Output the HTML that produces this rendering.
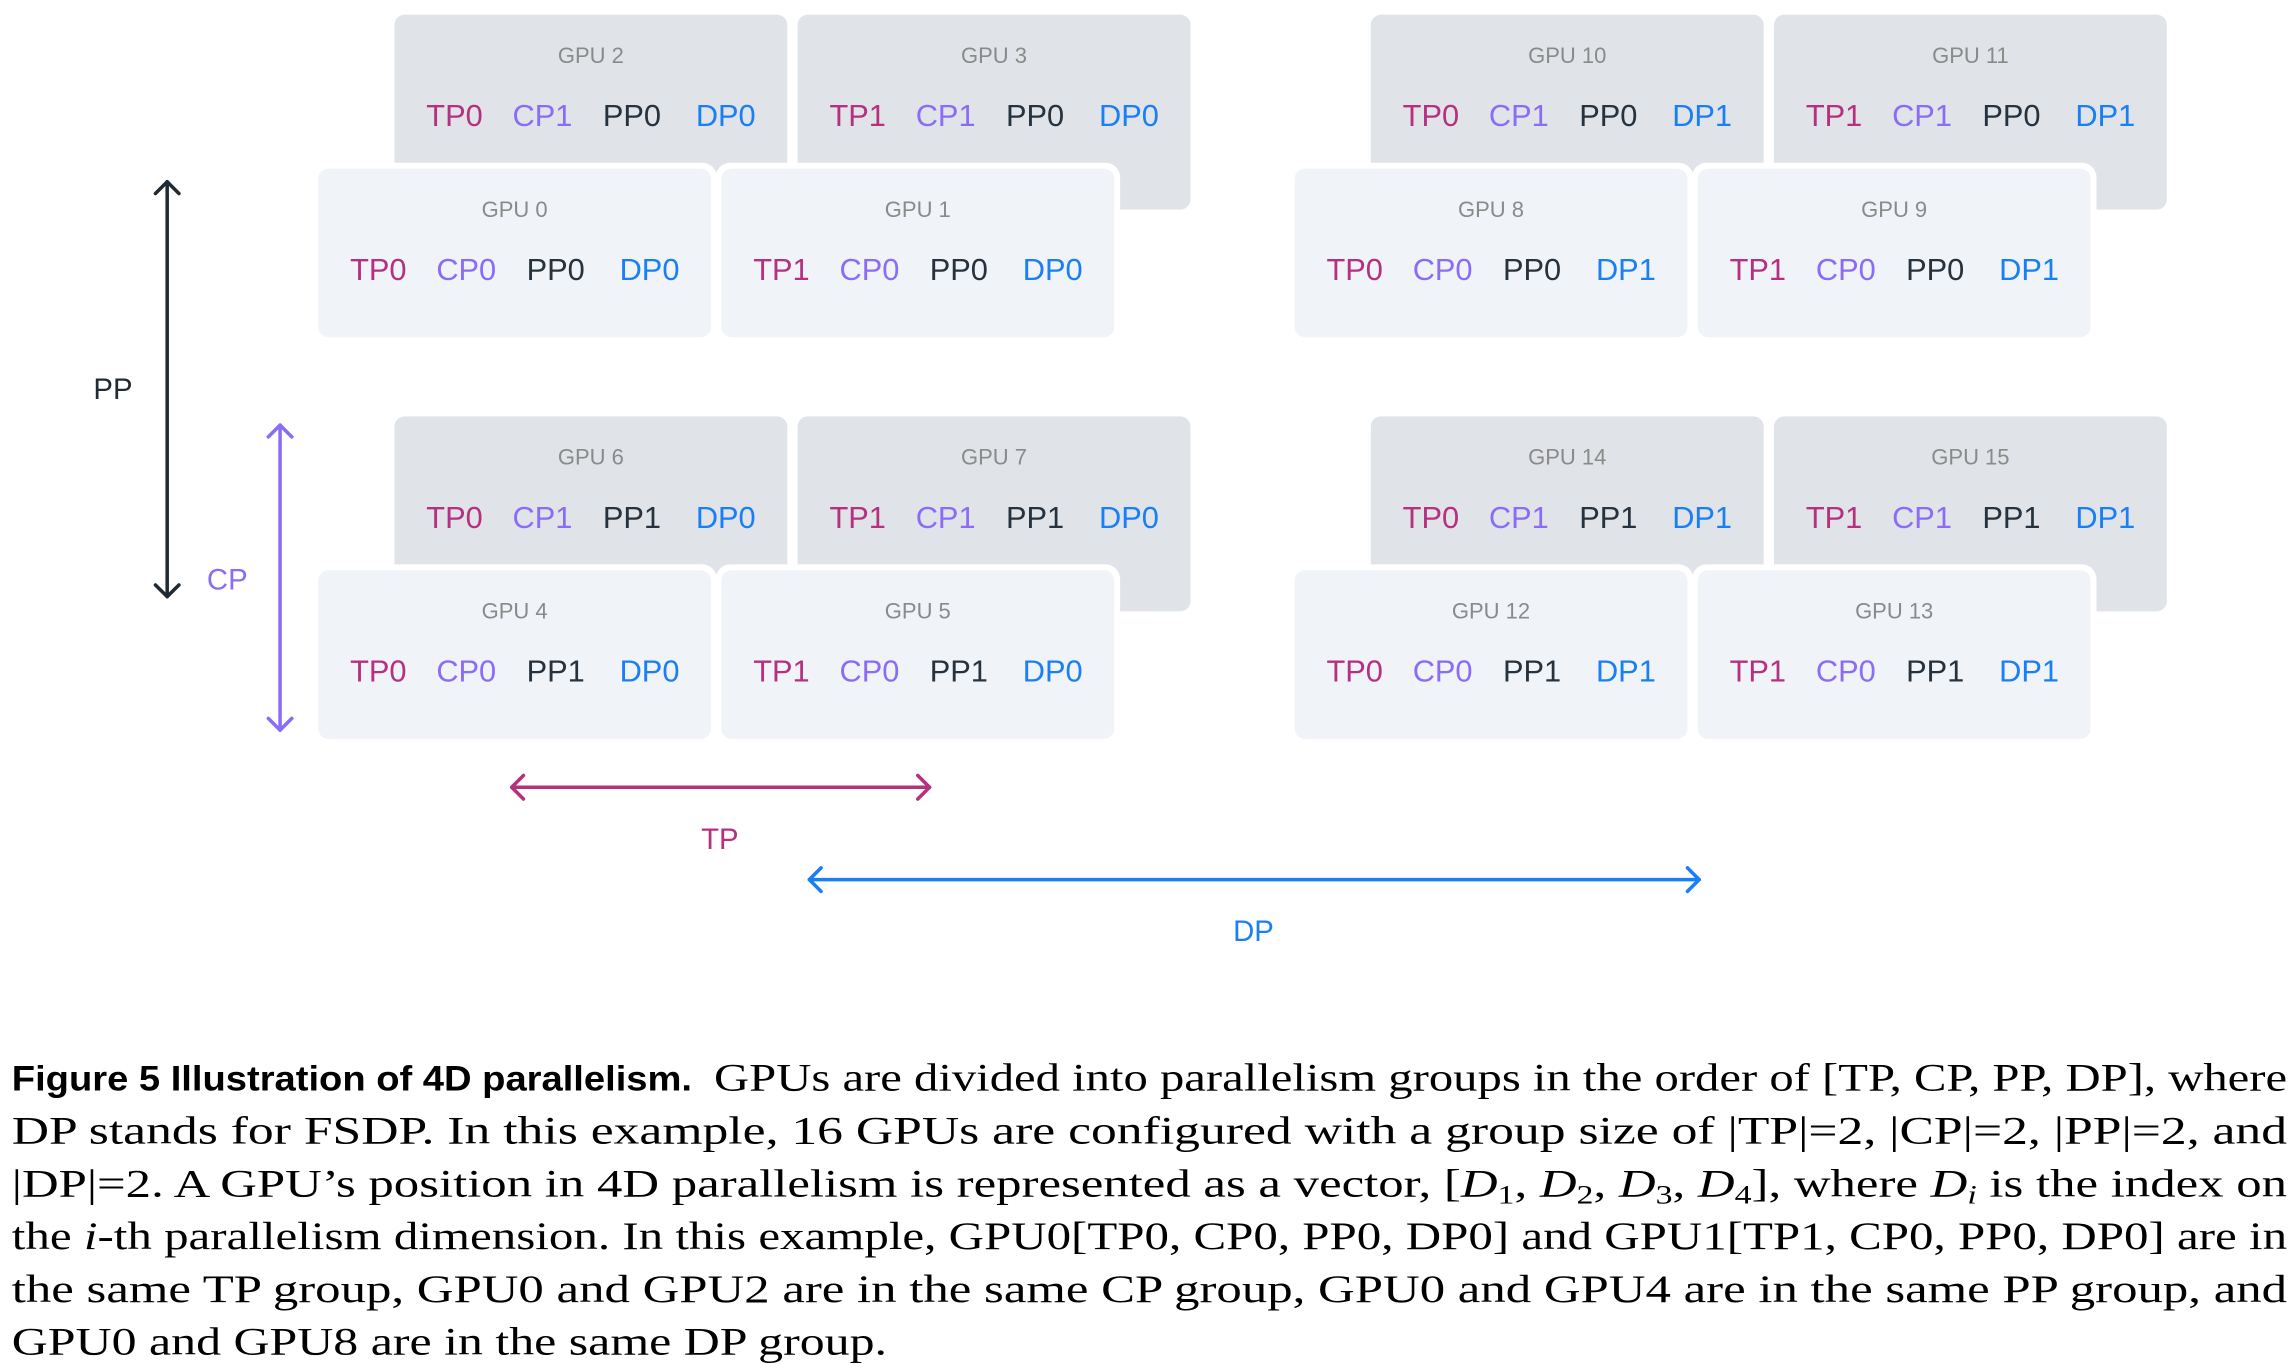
<!DOCTYPE html>
<html><head><meta charset="utf-8"><style>
html,body{margin:0;padding:0;background:#fff;}
svg{display:block;}
.t{font-family:"Liberation Sans","DejaVu Sans",sans-serif;}
.g{font-size:15px;fill:#8a8a8a;text-anchor:middle;}
.l{font-size:21px;text-anchor:middle;}
.tp{fill:#b5307f}.cp{fill:#8a6cf7}.pp{fill:#26323d}.dp{fill:#1a7ef5}
.cap{font-family:"Liberation Serif","DejaVu Serif",serif;font-size:27px;fill:#000;}
</style></head><body>
<svg width="2293" height="1364" viewBox="0 0 1564 930.4" xmlns="http://www.w3.org/2000/svg">
<defs>
<g id="back"><rect x="0" y="0" width="268" height="133" rx="7" fill="#e0e3e8"/></g>
<g id="front"><rect x="-4" y="-4" width="276" height="123" rx="10" fill="#fff"/><rect x="0" y="0" width="268" height="115" rx="7" fill="#f0f3f8"/></g>
</defs>
<g class="t">
<!-- group builder: back boxes then front -->
<g id="grp">
</g>
</g>
<g class="t" id="boxes"></g>
<script>
(function(){
var NS="http://www.w3.org/2000/svg";
var root=document.getElementById("boxes");
function box(x,y,back,n,tp,cp,pp,dp){
 var g=document.createElementNS(NS,"g");
 g.setAttribute("transform","translate("+x+","+y+")");
 var u=document.createElementNS(NS,"use");u.setAttribute("href",back?"#back":"#front");g.appendChild(u);
 var t=document.createElementNS(NS,"text");t.setAttribute("class","g");t.setAttribute("x",134);t.setAttribute("y",33);t.textContent="GPU "+n;g.appendChild(t);
 var L=[["tp","TP"+tp,41],["cp","CP"+cp,101],["pp","PP"+pp,162],["dp","DP"+dp,226]];
 L.forEach(function(a){var e=document.createElementNS(NS,"text");e.setAttribute("class","l "+a[0]);e.setAttribute("x",a[2]);e.setAttribute("y",76);e.textContent=a[1];g.appendChild(e);});
 root.appendChild(g);
}
[[0,0],[666,1]].forEach(function(r){var dx=r[0],d=r[1];
 [[0,0],[274,1]].forEach(function(c){var dy=c[0],p=c[1];var b=(d?8:0)+(p?4:0);
  box(269+dx,10+dy,1,b+2,0,1,p,d);
  box(544+dx,10+dy,1,b+3,1,1,p,d);
  box(217+dx,115+dy,0,b,0,0,p,d);
  box(492+dx,115+dy,0,b+1,1,0,p,d);
 });
});
})();
</script>
<!-- arrows -->
<g fill="none" stroke-width="2.4" stroke-linecap="round" stroke-linejoin="round">
<g stroke="#1f2a33"><line x1="114" y1="124" x2="114" y2="407"/><polyline points="106,132 114,124 122,132"/><polyline points="106,399 114,407 122,399"/></g>
<g stroke="#8a6cf7"><line x1="191" y1="290" x2="191" y2="498"/><polyline points="183,298 191,290 199,298"/><polyline points="183,490 191,498 199,490"/></g>
<g stroke="#b5307f"><line x1="349" y1="537" x2="634" y2="537"/><polyline points="357,529 349,537 357,545"/><polyline points="626,529 634,537 626,545"/></g>
<g stroke="#1a7ef5"><line x1="552" y1="600" x2="1159" y2="600"/><polyline points="560,592 552,600 560,608"/><polyline points="1151,592 1159,600 1151,608"/></g>
</g>
<g class="t" font-size="20">
<text x="77" y="272" text-anchor="middle" fill="#1f2a33">PP</text>
<text x="155" y="402" text-anchor="middle" fill="#8a6cf7">CP</text>
<text x="491" y="579" text-anchor="middle" fill="#b5307f">TP</text>
<text x="855" y="642" text-anchor="middle" fill="#1a7ef5">DP</text>
</g>
<!-- caption -->
<text x="8" y="744" class="t" font-size="24" font-weight="bold" textLength="464" lengthAdjust="spacingAndGlyphs">Figure 5  Illustration of 4D parallelism.</text>
<text x="487" y="744" class="cap" textLength="1073" lengthAdjust="spacingAndGlyphs">GPUs are divided into parallelism groups in the order of [TP, CP, PP, DP], where</text>
<text x="8" y="780" class="cap" textLength="1552" lengthAdjust="spacingAndGlyphs">DP stands for FSDP. In this example, 16 GPUs are configured with a group size of |TP|=2, |CP|=2, |PP|=2, and</text>
<text x="8" y="816" class="cap" textLength="1552" lengthAdjust="spacingAndGlyphs">|DP|=2. A GPU’s position in 4D parallelism is represented as a vector, [<tspan font-style="italic">D</tspan><tspan font-size="18" dy="5">1</tspan><tspan dy="-5">, </tspan><tspan font-style="italic">D</tspan><tspan font-size="18" dy="5">2</tspan><tspan dy="-5">, </tspan><tspan font-style="italic">D</tspan><tspan font-size="18" dy="5">3</tspan><tspan dy="-5">, </tspan><tspan font-style="italic">D</tspan><tspan font-size="18" dy="5">4</tspan><tspan dy="-5">], where </tspan><tspan font-style="italic">D</tspan><tspan font-size="18" font-style="italic" dy="5">i</tspan><tspan dy="-5"> is the index on</tspan></text>
<text x="8" y="852" class="cap" textLength="1552" lengthAdjust="spacingAndGlyphs">the <tspan font-style="italic">i</tspan>-th parallelism dimension. In this example, GPU0[TP0, CP0, PP0, DP0] and GPU1[TP1, CP0, PP0, DP0] are in</text>
<text x="8" y="888" class="cap" textLength="1552" lengthAdjust="spacingAndGlyphs">the same TP group, GPU0 and GPU2 are in the same CP group, GPU0 and GPU4 are in the same PP group, and</text>
<text x="8" y="924" class="cap" textLength="597" lengthAdjust="spacingAndGlyphs">GPU0 and GPU8 are in the same DP group.</text>
</svg>
</body></html>
